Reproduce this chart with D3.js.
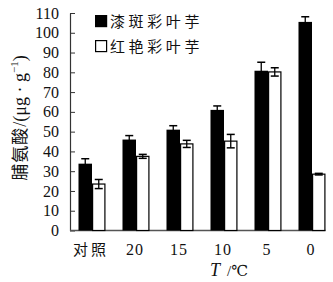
<!DOCTYPE html>
<html lang="zh">
<head>
  <meta charset="utf-8" />
  <script src="https://d3js.org/d3.v7.min.js"></script>
  <style>
    body { margin: 0; background: #fff; }
    .serif { font-family: "Liberation Serif", "DejaVu Serif", serif; }
    .cjk { font-family: "Noto Sans CJK SC", sans-serif; }
  </style>
</head>
<body>
<svg width="333" height="282"></svg>
<script>

// data
var categories = ["对照", "20", "15", "10", "5", "0"];
var seriesNames = ["漆斑彩叶芋", "红艳彩叶芋"];
var valuesA = [33.8, 46, 51, 61, 80.8, 105.5];   // 漆斑彩叶芋
var errorsA = [2.5, 2, 2, 2, 4.3, 2.6];
var valuesB = [23.5, 37.5, 43.8, 45.2, 80.2, 28.5]; // 红艳彩叶芋
var errorsB = [2.3, 1, 1.8, 3.4, 2.1, 0.4];
var yTicks = [0, 10, 20, 30, 40, 50, 60, 70, 80, 90, 100, 110];

var svg = d3.select("svg");

var y = d3.scaleLinear()
  .domain([0, 110])
  .range([230.5, 13]);

var x0 = d3.scaleBand()
  .domain(categories)
  .range([70, 334])
  .paddingInner(0.386)
  .paddingOuter(0.193);

var x1 = d3.scaleBand()
  .domain(seriesNames)
  .range([0, x0.bandwidth()]);

var fills = ["#000", "#fff"];

// y axis, ticks pointing inward
var yAxis = svg.append("g")
  .attr("transform", "translate(70,0)")
  .call(d3.axisLeft(y)
    .tickValues(yTicks)
    .tickSize(-5)
    .tickSizeOuter(0)
    .tickPadding(11));

yAxis.select(".domain").attr("stroke", "#333").attr("stroke-width", 1.2);
yAxis.selectAll(".tick line").attr("stroke", "#333");
yAxis.selectAll(".tick text")
  .attr("class", "serif")
  .attr("font-size", 16)
  .attr("fill", "#111");

// baseline
svg.append("line")
  .attr("x1", 70)
  .attr("x2", x0(categories[categories.length - 1]) + x0.bandwidth())
  .attr("y1", y(0))
  .attr("y2", y(0))
  .attr("stroke", "#555")
  .attr("stroke-width", 1.5);

var rows = categories.map(function(c, i) {
  return [
    { cat: c, s: seriesNames[0], v: valuesA[i], e: errorsA[i], k: 0 },
    { cat: c, s: seriesNames[1], v: valuesB[i], e: errorsB[i], k: 1 }
  ];
});

var groups = svg.append("g")
  .selectAll("g")
  .data(rows)
  .enter()
  .append("g")
  .attr("transform", function(d) { return "translate(" + x0(d[0].cat) + ",0)"; });

var bars = groups.selectAll("g")
  .data(function(d) { return d; })
  .enter()
  .append("g");

bars.append("rect")
  .attr("x", function(d) { return x1(d.s) + (d.k ? 0.6 : 0); })
  .attr("y", function(d) { return y(d.v); })
  .attr("width", function(d) { return x1.bandwidth() - (d.k ? 1.2 : 0); })
  .attr("height", function(d) { return y(0) - y(d.v); })
  .attr("fill", function(d) { return fills[d.k]; })
  .attr("stroke", "#000")
  .attr("stroke-width", function(d) { return d.k ? 1.2 : 0; });

// error bars
var capW = 8;
bars.append("line")
  .attr("x1", function(d) { return x1(d.s) + x1.bandwidth() / 2; })
  .attr("x2", function(d) { return x1(d.s) + x1.bandwidth() / 2; })
  .attr("y1", function(d) { return y(d.v - d.e); })
  .attr("y2", function(d) { return y(d.v + d.e); })
  .attr("stroke", "#000")
  .attr("stroke-width", 1.3);

[-1, 1].forEach(function(sign) {
  bars.append("line")
    .attr("x1", function(d) { return x1(d.s) + x1.bandwidth() / 2 - capW / 2; })
    .attr("x2", function(d) { return x1(d.s) + x1.bandwidth() / 2 + capW / 2; })
    .attr("y1", function(d) { return y(d.v + sign * d.e); })
    .attr("y2", function(d) { return y(d.v + sign * d.e); })
    .attr("stroke", "#000")
    .attr("stroke-width", 1.5);
});

// x labels
svg.append("g")
  .selectAll("text")
  .data(categories)
  .enter()
  .append("text")
  .attr("class", function(d, i) { return i === 0 ? "cjk" : "serif"; })
  .attr("x", function(d) { return x0(d) + x0.bandwidth() / 2 - 1; })
  .attr("y", 255)
  .attr("text-anchor", "middle")
  .attr("font-size", function(d, i) { return i === 0 ? 15 : 16; })
  .attr("letter-spacing", function(d, i) { return i === 0 ? 3 : 1; })
  .attr("fill", "#111")
  .text(function(d) { return d; });

// x title
var xt = svg.append("text")
  .attr("x", 210)
  .attr("y", 276)
  .attr("font-size", 18)
  .attr("fill", "#111")
  .attr("class", "serif");
xt.append("tspan").attr("font-style", "italic").text("T");
xt.append("tspan").attr("dx", 7).attr("font-size", 15).text("/℃");

// y title
var yt = svg.append("text")
  .attr("transform", "translate(26,118) rotate(-90)")
  .attr("text-anchor", "middle")
  .attr("font-size", 17)
  .attr("fill", "#111");
yt.append("tspan").attr("class", "cjk").attr("letter-spacing", 1).text("脯氨酸");
yt.append("tspan").attr("class", "serif").attr("font-size", 18).text("/(μg · g");
yt.append("tspan").attr("class", "serif").attr("font-size", 11).attr("dy", -8).text("−1");
yt.append("tspan").attr("class", "serif").attr("font-size", 18).attr("dy", 8).text(")");

// legend
var legend = svg.append("g")
  .selectAll("g")
  .data(seriesNames)
  .enter()
  .append("g")
  .attr("transform", function(d, i) { return "translate(95," + (15 + i * 25) + ")"; });

legend.append("rect")
  .attr("x", 0.6)
  .attr("y", 0.6)
  .attr("width", 11)
  .attr("height", 11)
  .attr("fill", function(d, i) { return fills[i]; })
  .attr("stroke", "#000")
  .attr("stroke-width", 1.2);

legend.append("text")
  .attr("class", "cjk")
  .attr("x", 15)
  .attr("y", 11.5)
  .attr("font-size", 15)
  .attr("letter-spacing", 3.6)
  .attr("fill", "#111")
  .text(function(d) { return d; });

</script>
</body>
</html>
